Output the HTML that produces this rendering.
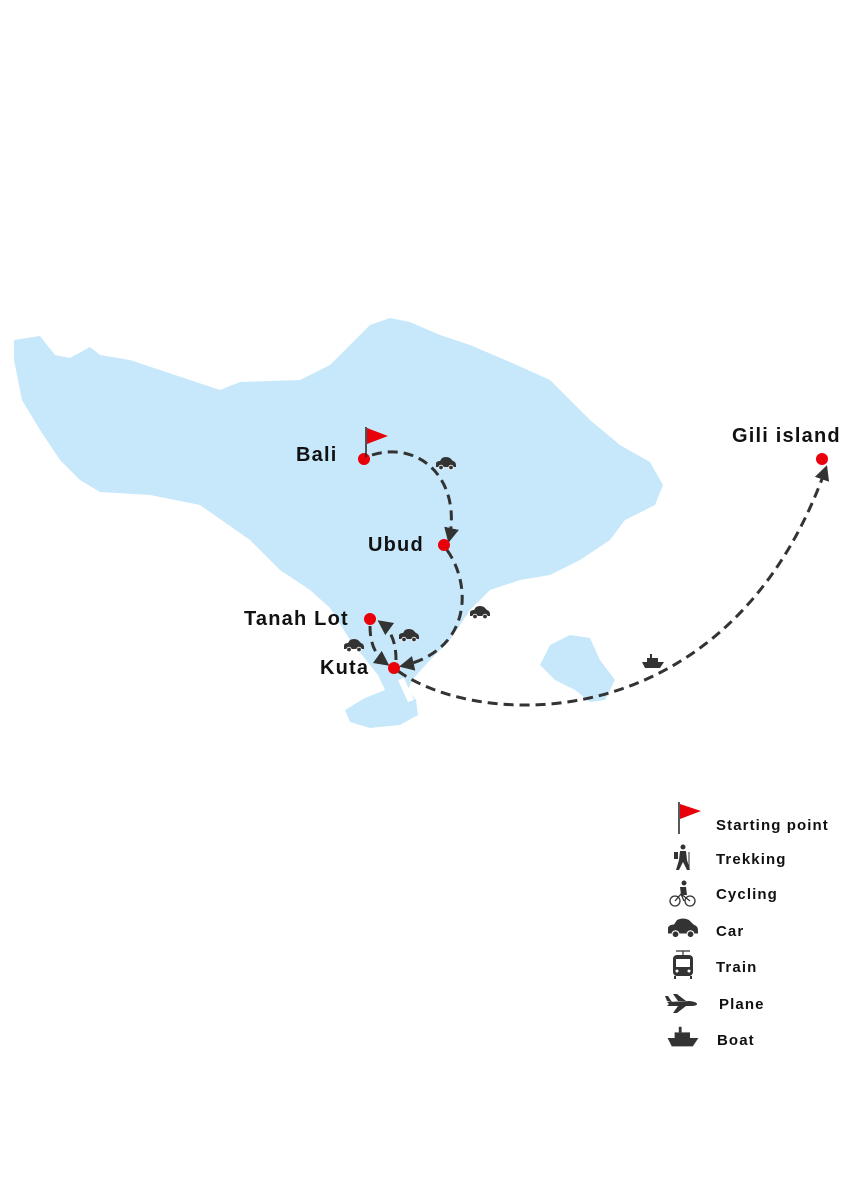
<!DOCTYPE html>
<html><head><meta charset="utf-8"><style>
html,body{margin:0;padding:0;background:#fff}
svg{display:block}
text{font-family:"Liberation Sans",Arial,sans-serif;font-weight:bold;fill:#111}
.m{font-size:20px;letter-spacing:1.2px}
.l{font-size:15px;letter-spacing:1.1px}
</style></head><body>
<svg width="848" height="1200" viewBox="0 0 848 1200" xmlns="http://www.w3.org/2000/svg">
<defs>
<marker id="ah" viewBox="0 0 10 10" refX="8" refY="5" markerWidth="5" markerHeight="5" orient="auto"><path d="M0,0 L10,5 L0,10 z" fill="#333"/></marker>
<g id="car"><path d="M-10,3 L-10,-1 Q-9,-3 -6,-3 L-4,-6 Q0,-8 4,-6 L7,-3 Q10,-2 10,1 L10,3 Z" fill="#333"/><circle cx="-5" cy="3.5" r="2.3" fill="#333" stroke="#fff" stroke-width="0.8"/><circle cx="5" cy="3.5" r="2.3" fill="#333" stroke="#fff" stroke-width="0.8"/></g>
<g id="boat"><path d="M-11,0 L11,0 L7,6 L-8,6 Z" fill="#333"/><rect x="-6" y="-4" width="11" height="4" fill="#333"/><rect x="-3" y="-8" width="2" height="4" fill="#333"/></g>
</defs>
<path fill="#c6e8fa" d="M14,340 L40,336 L55,355 L70,358 L90,347 L100,355 L130,360 L220,390 L240,382 L300,380 L330,365 L370,325 L390,318 L410,322 L440,335 L470,345 L510,362 L550,380 L590,420 L620,445 L650,462 L663,485 L655,505 L625,520 L610,540 L580,560 L550,575 L520,580 L490,590 L470,610 L450,640 L430,660 L412,680 L408,690 L416,700 L418,715 L400,725 L370,728 L350,722 L345,710 L365,698 L385,690 L378,675 L350,640 L330,608 L310,590 L280,570 L250,540 L200,505 L150,495 L100,492 L80,480 L60,460 L40,430 L22,400 L14,360 Z"/>
<path fill="#fff" d="M398,680 L404,678 L414,700 L408,702 Z"/>
<path fill="#c6e8fa" d="M540,665 L550,645 L570,635 L590,638 L600,660 L615,680 L605,700 L590,702 L575,690 L555,680 Z"/>
<g fill="none" stroke="#333" stroke-width="3" stroke-dasharray="10,6" marker-end="url(#ah)">
<path d="M372,455 C420,440 462,480 449,540"/>
<path d="M447,550 C472,585 472,650 402,666"/>
<path d="M370,626 C370,645 376,656 387,664"/>
<path d="M396,660 C396,642 391,630 380,622"/>
<path d="M398,671 C480,730 730,740 826,468"/>
</g>
<g fill="#e8000b">
<circle cx="364" cy="459" r="6"/><circle cx="444" cy="545" r="6"/><circle cx="370" cy="619" r="6"/><circle cx="394" cy="668" r="6"/><circle cx="822" cy="459" r="6"/>
</g>
<line x1="366" y1="427" x2="366" y2="457" stroke="#222" stroke-width="1.5"/>
<path d="M367,428 L388,436 L367,444 Z" fill="#e8000b"/>
<text x="296" y="461" class="m">Bali</text>
<text x="368" y="551" class="m">Ubud</text>
<text x="244" y="625" class="m">Tanah Lot</text>
<text x="320" y="674" class="m">Kuta</text>
<text x="732" y="442" class="m">Gili island</text>
<use href="#car" x="446" y="464"/>
<use href="#car" x="480" y="613"/>
<use href="#car" x="409" y="636"/>
<use href="#car" x="354" y="646"/>
<use href="#boat" x="653" y="662"/>
<line x1="679" y1="802" x2="679" y2="834" stroke="#222" stroke-width="1.5"/>
<path d="M680,804 L701,811 L680,819 Z" fill="#e8000b"/>
<text x="716" y="830" class="l">Starting point</text>
<g fill="#333">
<circle cx="683" cy="847" r="2.5"/><path d="M680,851 L686,851 L687,860 L690,870 L687,870 L683,862 L679,870 L676,870 L679,860 Z"/><rect x="674" y="852" width="4" height="7"/><line x1="689" y1="852" x2="689" y2="870" stroke="#333" stroke-width="1"/>
</g>
<text x="716" y="864" class="l">Trekking</text>
<g fill="none" stroke="#333" stroke-width="1.3"><circle cx="675" cy="901" r="5"/><circle cx="690" cy="901" r="5"/><path d="M675,901 L681,894 L690,901 M681,894 L684,901"/></g>
<circle cx="684" cy="883" r="2.5" fill="#333"/><path d="M680,887 L686,887 L687,895 L681,895 Z" fill="#333"/>
<text x="716" y="899" class="l">Cycling</text>
<g transform="translate(683,929) scale(1.5)"><use href="#car"/></g>
<text x="716" y="936" class="l">Car</text>
<g fill="#333"><rect x="673" y="955" width="20" height="21" rx="4"/><rect x="676" y="959" width="14" height="8" fill="#fff"/><circle cx="677" cy="971" r="1.5" fill="#fff"/><circle cx="689" cy="971" r="1.5" fill="#fff"/><path d="M676,951 L690,951 M683,951 L683,955" stroke="#333" stroke-width="1.2"/><rect x="674" y="976" width="2" height="3"/><rect x="690" y="976" width="2" height="3"/></g>
<text x="716" y="972" class="l">Train</text>
<path fill="#333" d="M667,1002 L690,1001 Q697,1002 697,1004 Q697,1006 690,1006 L667,1006 L669,1004 Z M678,1001 L673,994 L677,994 L686,1001 Z M678,1006 L673,1013 L677,1013 L686,1006 Z M667,1001 L665,996 L668,996 L672,1002 Z"/>
<text x="719" y="1009" class="l">Plane</text>
<g transform="translate(683,1038) scale(1.4)"><use href="#boat"/></g>
<text x="717" y="1045" class="l">Boat</text>
</svg>
</body></html>
